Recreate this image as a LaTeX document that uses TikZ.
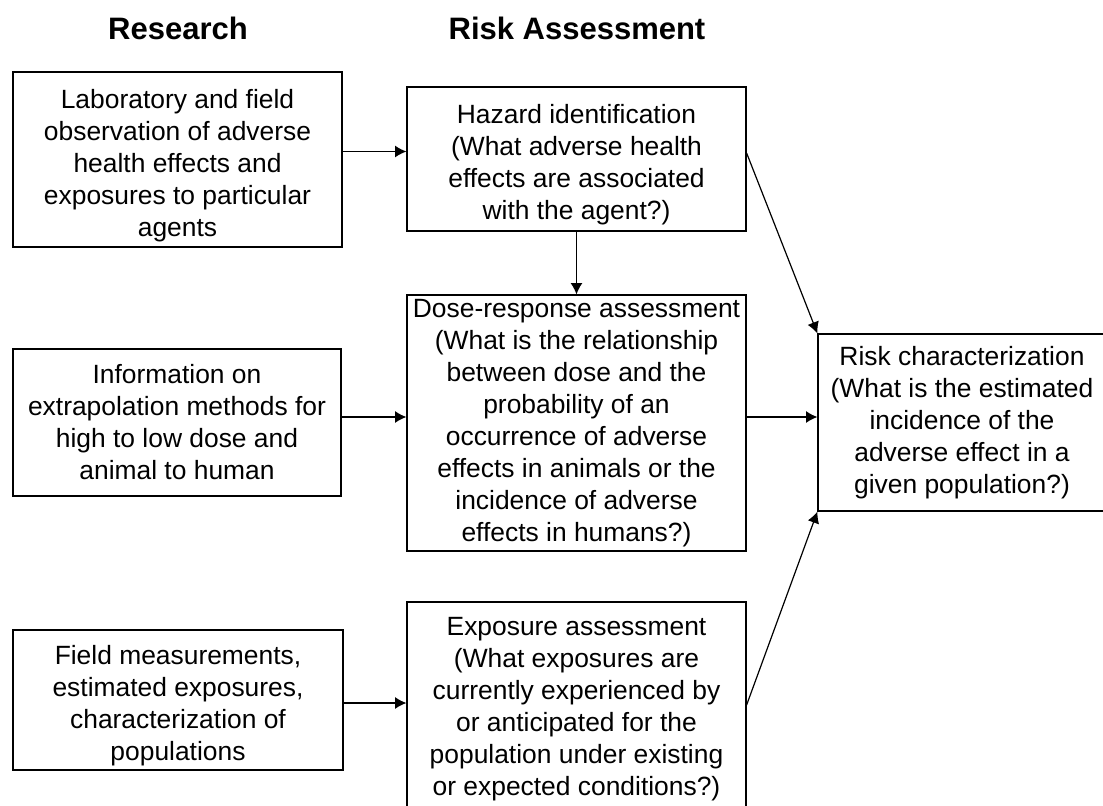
\documentclass[tikz,border=0pt]{standalone}
\usepackage{fontspec}
\setmainfont{Liberation Sans}
\usetikzlibrary{arrows.meta}

\newcommand{\topgap}{\rule{0pt}{15.5pt}}

\begin{document}
\begin{tikzpicture}[
    x=0.5pt, y=-0.5pt,
    box/.style={rectangle, draw, line width=0.6pt, align=center, inner sep=0pt,
                font=\fontsize{13.2}{16}\selectfont},
    head/.style={font=\fontsize{15.5}{18}\selectfont\bfseries},
    arr/.style={-{Latex[length=5.7pt,width=6pt]}, line width=0.6pt}
]
\useasboundingbox (0,0) rectangle (1103,805);

% Titel
\node[head] (research) at (178,28) {Research};
\node[head] (assess) at (577,28) {Risk Assessment};

% Research
\node[box, minimum width=164.5pt, minimum height=87.5pt] (lab) at (177.5,159.5)
    {\topgap Laboratory and field\\observation of adverse\\health effects and\\exposures to particular\\agents};
\node[box, minimum width=164pt, minimum height=73.5pt] (info) at (177,422.5)
    {Information on\\extrapolation methods for\\high to low dose and\\animal to human};
\node[box, minimum width=165pt, minimum height=70pt] (field) at (178,700)
    {\topgap Field measurements,\\estimated exposures,\\characterization of\\populations};

% Risk Assessment
\node[box, minimum width=169.5pt, minimum height=72pt] (hazard) at (576.5,159)
    {\topgap Hazard identification\\(What adverse health\\effects are associated\\with the agent?)};
\node[box, minimum width=169.5pt, minimum height=128pt] (dose) at (576.5,423)
    {Dose-response assessment\\(What is the relationship\\between dose and the\\probability of an\\occurrence of adverse\\effects in animals or the\\incidence of adverse\\effects in humans?)};
\node[box, minimum width=169.5pt, minimum height=103pt] (expo) at (576.5,705)
    {\rule{0pt}{13.5pt}Exposure assessment\\(What exposures are\\currently experienced by\\or anticipated for the\\population under existing\\or expected conditions?)};
\node[box, minimum width=144pt, minimum height=88.5pt] (risk) at (962,422.5)
    {Risk characterization\\(What is the estimated\\incidence of the\\adverse effect in a\\given population?)};

% Pfeile
\draw[arr] ([yshift=4pt]lab.east) -- ([yshift=4pt]lab.east -| hazard.west);
\draw[arr] ([yshift=2.75pt]info.east) -- ([yshift=2.75pt]info.east -| dose.west);
\draw[arr] ([yshift=-1.5pt]field.east) -- ([yshift=-1.5pt]field.east -| expo.west);
\draw[arr] (hazard) -- (dose);
\draw[arr] ([yshift=3pt]dose.east) -- ([yshift=3pt]dose.east -| risk.west);
\draw[arr] ([yshift=3pt]hazard.east) -- (risk.north west);
\draw[arr] (expo.east) -- (risk.south west);
\end{tikzpicture}
\end{document}
